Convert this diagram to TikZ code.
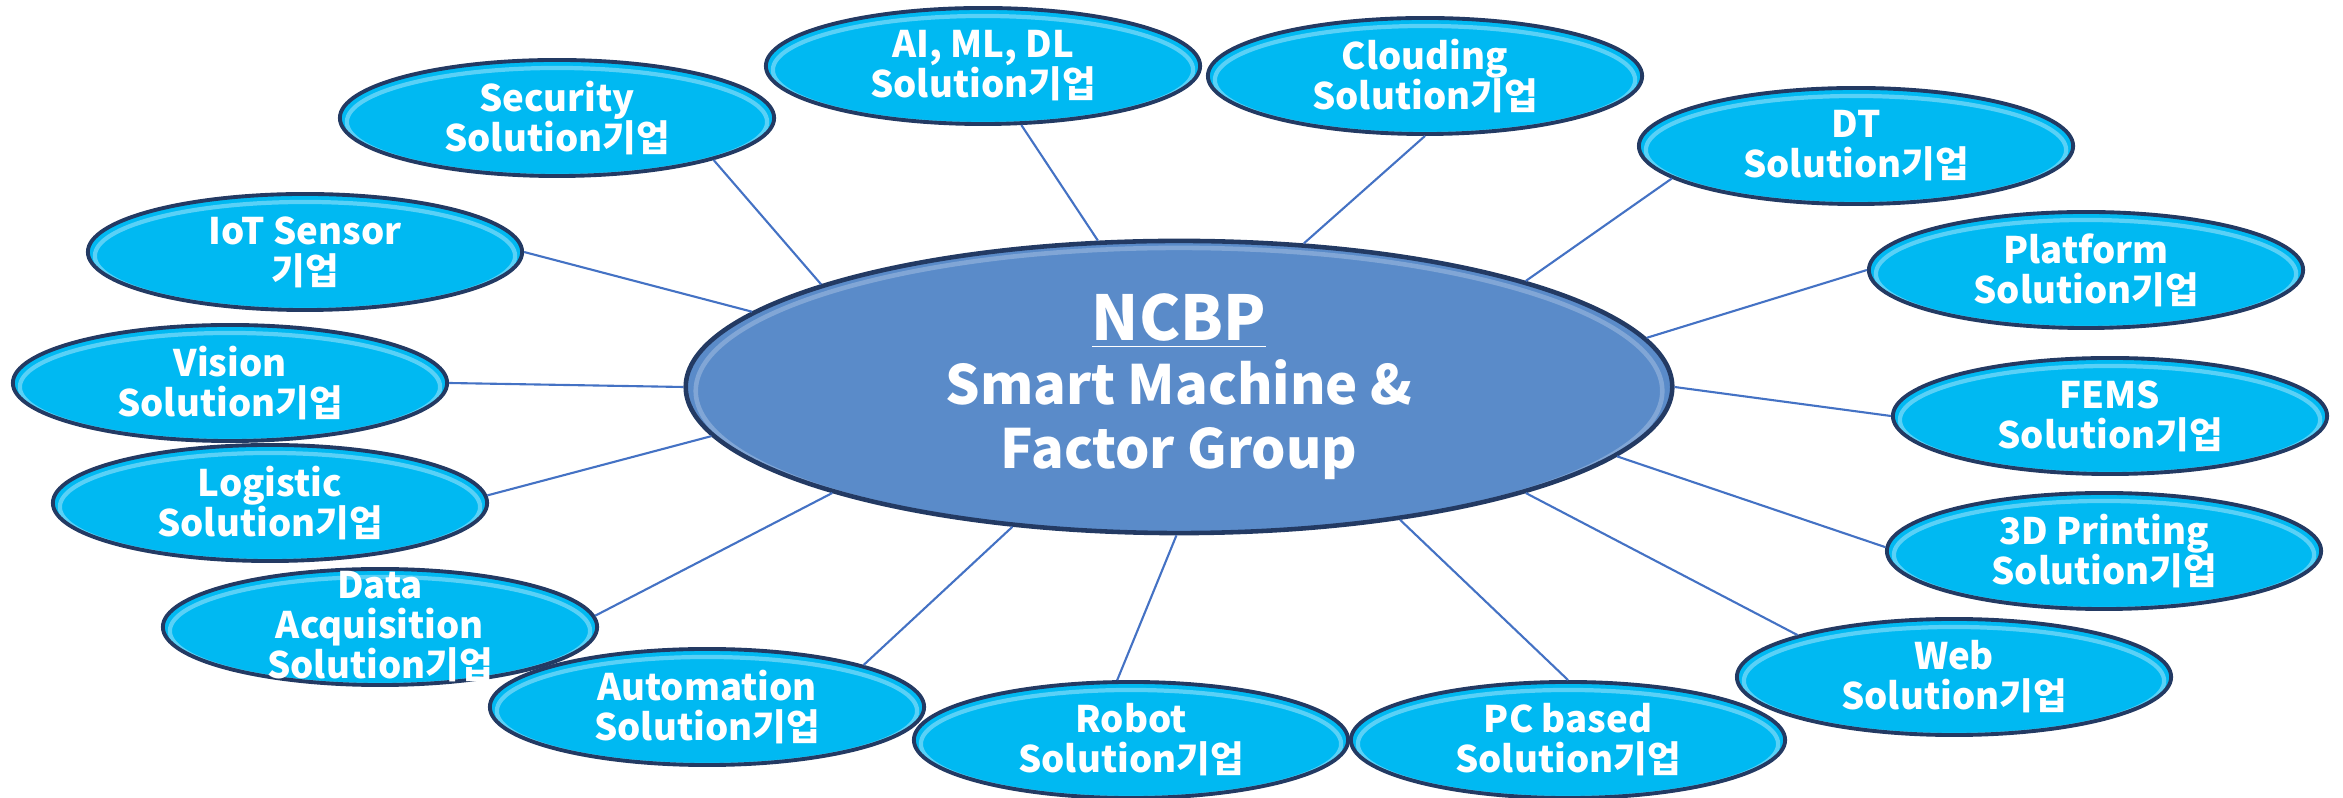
\documentclass[tikz,border=0pt]{standalone}
\usepackage{fontspec}
\setmainfont{Noto Sans CJK KR}
\usepackage{tikz}
\usetikzlibrary{shapes}
\definecolor{sky}{HTML}{00B9F2}
\definecolor{steel}{HTML}{5A8BC9}
\definecolor{rim}{HTML}{233A63}
\definecolor{link}{HTML}{4472C4}

\begin{document}
\begin{tikzpicture}[x=0.01cm,y=-0.01cm,
	sol/.style={ellipse,draw=rim,line width=1.1pt,fill=sky,inner sep=0pt,minimum width=4.34cm,minimum height=1.16cm,
		path picture={\node[ellipse,draw=sky!65!white,line width=1.2pt,minimum width=4.2cm,minimum height=1.08cm] at ([yshift=-0.04cm]path picture bounding box.center) {};}},
	hub/.style={ellipse,draw=rim,line width=1.3pt,fill=steel,inner sep=0pt,minimum width=9.86cm,minimum height=2.92cm,text=white,align=center,
		font=\fontsize{15.4}{18.2}\selectfont\bfseries,
		path picture={\node[ellipse,draw=steel!60!white,opacity=.6,line width=1.3pt,minimum width=9.66cm,minimum height=2.86cm] at ([yshift=-0.04cm]path picture bounding box.center) {};}},
	txt/.style={text=white,align=center,font=\fontsize{10.4}{11.4}\selectfont\bfseries},
	con/.style={link,line width=.6pt}]
			\useasboundingbox (0,0) rectangle (2343,798);
			\node[hub] (ncbp) at (1179,387) {{\fontsize{17.6}{18.2}\selectfont\underline{NCBP}}\\Smart Machine \&\\Factor Group};
			\node[sol,label={[txt]center:Security\\Solution기업}] (sec) at (557,118) {};
			\node[sol,label={[txt]center:AI, ML, DL\\Solution기업}] (ai) at (983,66) {};
			\node[sol,label={[txt]center:Clouding\\Solution기업}] (cld) at (1425,76) {};
			\node[sol,label={[txt]center:DT\\Solution기업}] (dt) at (1856,146) {};
			\node[sol,label={[txt]center:Platform\\Solution기업}] (plt) at (2086,270) {};
			\node[sol,label={[txt]center:FEMS\\Solution기업}] (fems) at (2110,416) {};
			\node[sol,label={[txt]center:3D Printing\\Solution기업}] (prt) at (2104,551) {};
			\node[sol,label={[txt]center:Web\\Solution기업}] (web) at (1954,677) {};
			\node[sol,label={[txt]center:PC based\\Solution기업}] (pc) at (1568,740) {};
			\node[sol,label={[txt]center:Robot\\Solution기업}] (rob) at (1131,740) {};
			\node[sol,label={[txt]center:Automation\\Solution기업}] (aut) at (707,707) {};
			\node[sol,label={[txt]center:Data\\Acquisition\\Solution기업}] (daq) at (380,627) {};
			\node[sol,label={[txt]center:Logistic\\Solution기업}] (log) at (270,503) {};
			\node[sol,label={[txt]center:Vision\\Solution기업}] (vis) at (230,383) {};
			\node[sol,label={[txt]center:IoT Sensor\\기업}] (iot) at (305,252) {};
			\draw[con] (sec.-15) -- (ncbp.164);
			\draw[con] (ai.-57) -- (ncbp.119);
			\draw[con] (cld.-90) -- (ncbp.49);
			\draw[con] (dt.190) -- (ncbp.17);
			\draw[con] (plt.180) -- (ncbp.6);
			\draw[con] (fems.180) -- (ncbp.0);
			\draw[con] (prt.179) -- (ncbp.-9);
			\draw[con] (web.165) -- (ncbp.-17);
			\draw[con] (pc.90) -- (ncbp.-31);
			\draw[con] (rob.103) -- (ncbp.-91);
			\draw[con] (aut.15) -- (ncbp.220);
			\draw[con] (daq.3) -- (ncbp.197);
			\draw[con] (log.2) -- (ncbp.186);
			\draw[con] (vis.0) -- (ncbp.180);
			\draw[con] (iot.0) -- (ncbp.170);
			\end{tikzpicture}
\end{document}
